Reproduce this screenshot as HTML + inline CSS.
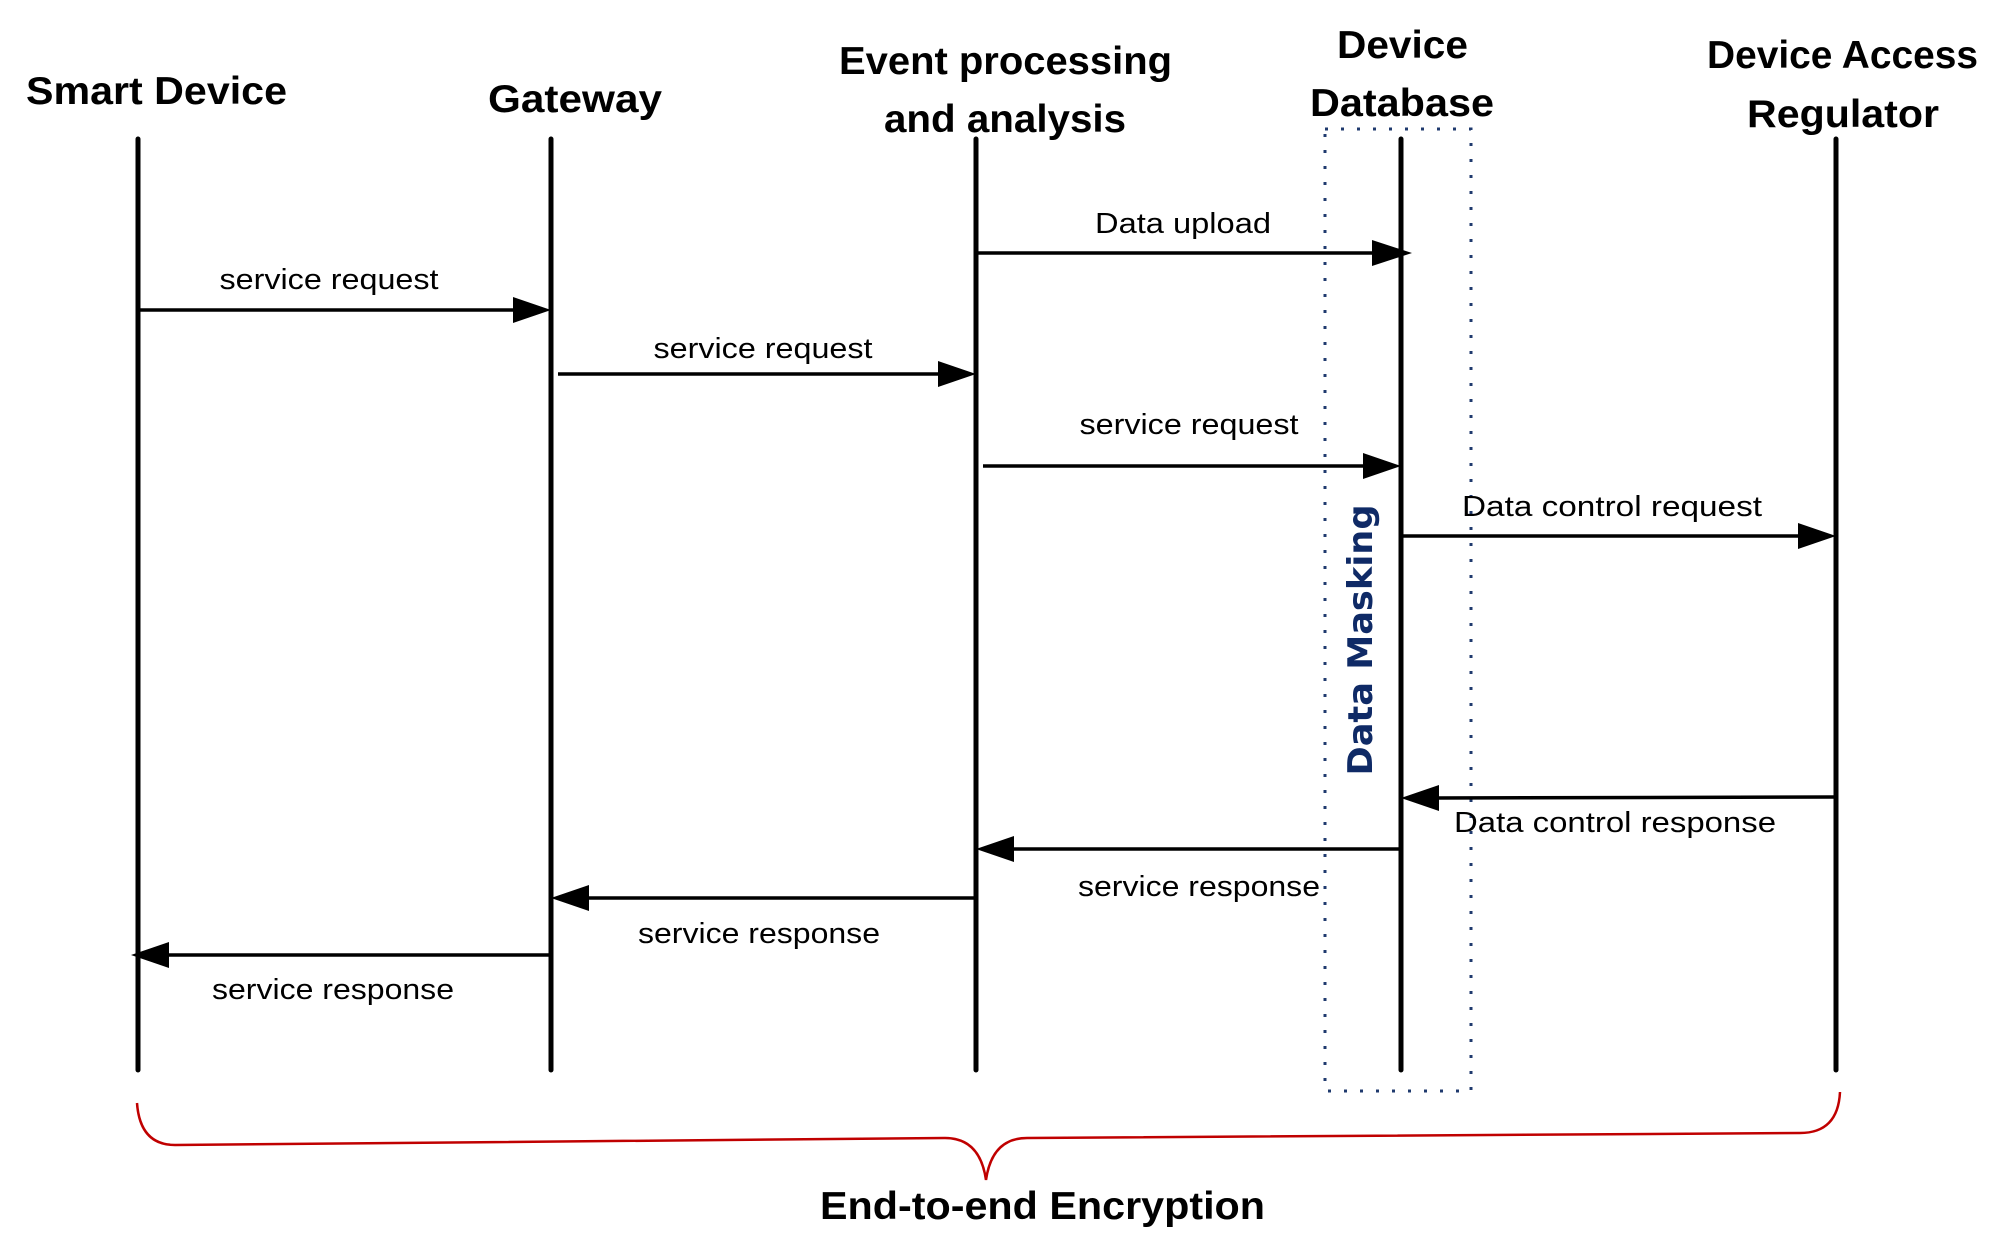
<!DOCTYPE html>
<html><head><style>html,body{margin:0;padding:0;background:#fff}svg{display:block}</style></head>
<body>
<svg width="2016" height="1259" viewBox="0 0 2016 1259" xmlns="http://www.w3.org/2000/svg">
<g stroke="#000" stroke-width="5" stroke-linecap="round">
<line x1="138" y1="139" x2="138" y2="1070"/>
<line x1="551" y1="139" x2="551" y2="1070"/>
<line x1="976" y1="139" x2="976" y2="1070"/>
<line x1="1401" y1="139" x2="1401" y2="1070"/>
<line x1="1836" y1="139" x2="1836" y2="1070"/>
</g>
<rect x="1325" y="129" width="146" height="962" fill="none" stroke="#1f3a6e" stroke-width="3" stroke-dasharray="3,13"/>
<g stroke="#000" stroke-width="3.5">
<line x1="138" y1="310" x2="515" y2="310"/>
<line x1="558" y1="374" x2="940" y2="374"/>
<line x1="976" y1="253" x2="1372" y2="253"/>
<line x1="983" y1="466" x2="1365" y2="466"/>
<line x1="1401" y1="536" x2="1800" y2="536"/>
<line x1="1836" y1="797" x2="1435" y2="798"/>
<line x1="1401" y1="849" x2="1010" y2="849"/>
<line x1="976" y1="898" x2="585" y2="898"/>
<line x1="551" y1="955" x2="165" y2="955"/>
</g>
<g fill="#000">
<polygon points="513,297 551,310 513,323"/>
<polygon points="938,361 976,374 938,387"/>
<polygon points="1372,240 1412,253 1372,266"/>
<polygon points="1363,453 1401,466 1363,479"/>
<polygon points="1798,523 1836,536 1798,549"/>
<polygon points="1439,785 1401,798 1439,811"/>
<polygon points="1014,836 976,849 1014,862"/>
<polygon points="589,885 551,898 589,911"/>
<polygon points="169,942 131,955 169,968"/>
</g>
<g font-family="Liberation Sans, sans-serif" font-weight="bold" font-size="39" fill="#000">
<text x="26" y="104" textLength="261" lengthAdjust="spacingAndGlyphs">Smart Device</text>
<text x="488" y="112" textLength="174" lengthAdjust="spacingAndGlyphs">Gateway</text>
<text x="839" y="74" textLength="333" lengthAdjust="spacingAndGlyphs">Event processing</text>
<text x="884" y="132" textLength="242" lengthAdjust="spacingAndGlyphs">and analysis</text>
<text x="1337" y="58" textLength="131" lengthAdjust="spacingAndGlyphs">Device</text>
<text x="1310" y="116" textLength="184" lengthAdjust="spacingAndGlyphs">Database</text>
<text x="1707" y="68" textLength="271" lengthAdjust="spacingAndGlyphs">Device Access</text>
<text x="1747" y="127" textLength="192" lengthAdjust="spacingAndGlyphs">Regulator</text>
<text x="820" y="1219" textLength="445" lengthAdjust="spacingAndGlyphs">End-to-end Encryption</text>
</g>
<g font-family="Liberation Sans, sans-serif" font-size="29" fill="#000" text-anchor="middle">
<text x="329" y="289" textLength="219" lengthAdjust="spacingAndGlyphs">service request</text>
<text x="763" y="358" textLength="219" lengthAdjust="spacingAndGlyphs">service request</text>
<text x="1183" y="233" textLength="176" lengthAdjust="spacingAndGlyphs">Data upload</text>
<text x="1189" y="434" textLength="219" lengthAdjust="spacingAndGlyphs">service request</text>
<text x="1612" y="516" textLength="300" lengthAdjust="spacingAndGlyphs">Data control request</text>
<text x="1615" y="832" textLength="322" lengthAdjust="spacingAndGlyphs">Data control response</text>
<text x="1199" y="896" textLength="242" lengthAdjust="spacingAndGlyphs">service response</text>
<text x="759" y="943" textLength="242" lengthAdjust="spacingAndGlyphs">service response</text>
<text x="333" y="999" textLength="242" lengthAdjust="spacingAndGlyphs">service response</text>
</g>
<text transform="translate(1372,640) rotate(-90)" text-anchor="middle" font-family="DejaVu Sans, sans-serif" font-weight="bold" font-size="34" fill="#0f2a66" textLength="271" lengthAdjust="spacingAndGlyphs">Data Masking</text>
<path d="M137,1103 Q140,1145 175,1145 L945,1138 Q980,1138 986,1180 Q992,1138 1027,1138 L1800,1133 Q1838,1133 1840,1092" fill="none" stroke="#c00000" stroke-width="2.5"/>
</svg>
</body></html>
